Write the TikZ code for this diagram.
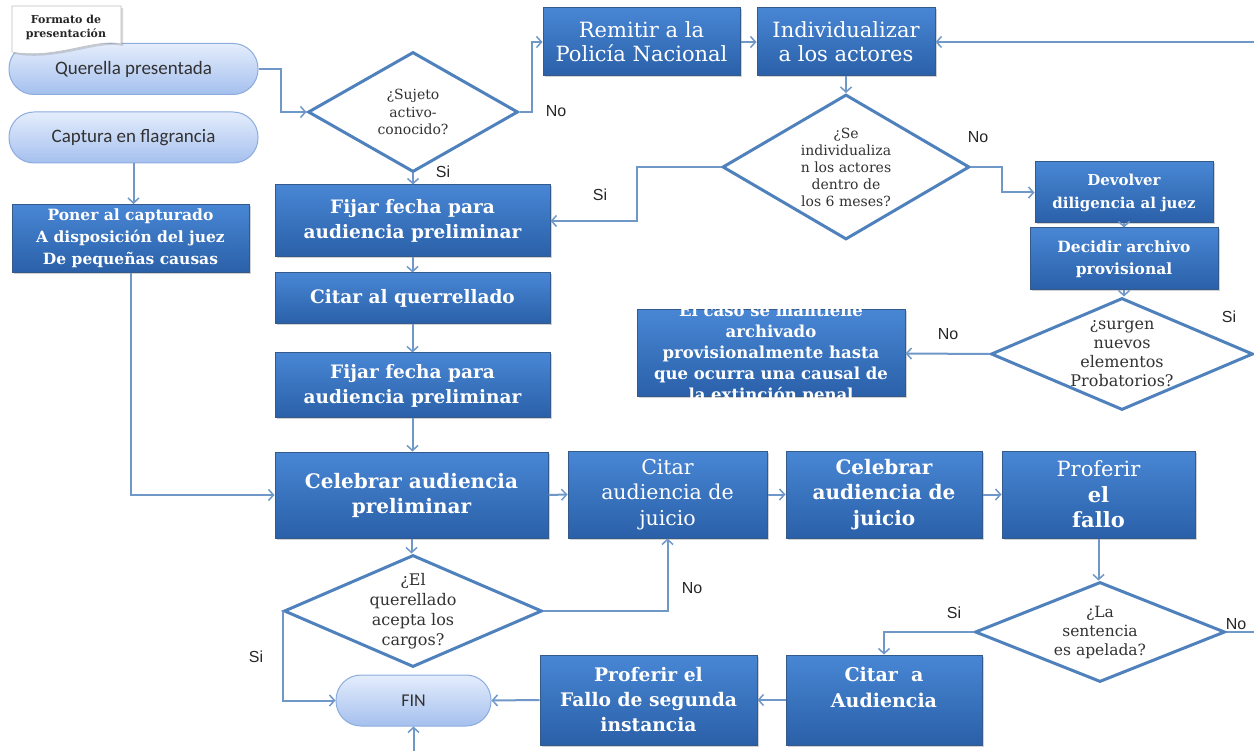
\documentclass[tikz,border=0pt]{standalone}
\usepackage{fontspec}
\setmainfont{DejaVu Serif}
\newfontfamily\srf{DejaVu Serif}
\newfontfamily\carl{Carlito}
\newfontfamily\lsans{Liberation Sans}
\usetikzlibrary{arrows.meta,shapes.geometric,shadows}
\definecolor{conncol}{RGB}{111,152,201}
\definecolor{dborder}{RGB}{79,129,189}
\definecolor{btop}{RGB}{72,134,212}
\definecolor{bbot}{RGB}{42,96,168}
\definecolor{bedge}{RGB}{52,90,140}
\definecolor{ptop}{RGB}{228,237,252}
\definecolor{pbot}{RGB}{165,192,238}
\definecolor{pedge}{RGB}{140,172,222}
\definecolor{dtxt}{RGB}{50,50,50}
\newcommand{\myB}[2]{\srf\bfseries\fontsize{#1}{#2}\selectfont}
\newcommand{\myR}[2]{\srf\fontsize{#1}{#2}\selectfont}
\begin{document}
\begin{tikzpicture}[x=1pt,y=-1pt,
  box/.style={rectangle, draw=bedge, line width=1pt, top color=btop, bottom color=bbot,
    text=white, align=center, inner sep=0pt,
    drop shadow={shadow xshift=1.5pt, shadow yshift=-1.5pt, opacity=0.35}},
  pill/.style={rectangle, rounded corners=25pt, draw=pedge, line width=1pt,
    top color=ptop, bottom color=pbot, text=dtxt, inner sep=0pt,
    font=\carl\fontsize{19}{22}\selectfont},
  dia/.style={diamond, draw=dborder, line width=3pt, fill=white, inner sep=0pt},
  dtext/.style={text=dtxt, align=center, inner sep=0pt},
  arr/.style={draw=conncol, line width=2pt, -{Straight Barb[length=5pt,width=11pt,line width=1.5pt]}},
  plain/.style={draw=conncol, line width=2pt},
  lbl/.style={font=\lsans\fontsize{16}{18}\selectfont, text=black!85, inner sep=0pt}
]
\fill[white] (0,0) rectangle (1254,751);
\useasboundingbox (0,0) rectangle (1254,751);

% start / end pills
\node[pill, minimum width=249pt, minimum height=51pt] (q) at (133.5,69) {Querella presentada};
\node[pill, minimum width=249pt, minimum height=51pt] (cap) at (133.5,137.5) {Captura en flagrancia};
\node[pill, minimum width=155pt, minimum height=51pt, font=\carl\fontsize{18}{20}\selectfont] (fin) at (413.5,700.5) {FIN};

% format tab
\path[fill=white, draw=black!25, line width=0.6pt,
  drop shadow={shadow xshift=2pt, shadow yshift=-2pt, opacity=0.3}]
  (12,6) -- (121,6) -- (121,44) .. controls (95,38) and (55,60) .. (12,52) -- cycle;
\node[font=\myB{11}{14}, text=black!85, align=center, inner sep=0pt] (fmt) at (66,27) {Formato de\\presentación};

% process boxes
\node[box, minimum width=237pt, minimum height=68pt, font=\myB{15.5}{22}] (pon) at (130.5,238.5)
  {Poner al capturado\\A disposición del juez\\De pequeñas causas};
\node[box, minimum width=197pt, minimum height=68pt, font=\myR{21}{24}] (rem) at (641.5,42)
  {Remitir a la\\Policía Nacional};
\node[box, minimum width=178pt, minimum height=68pt, font=\myR{21}{24}] (ind) at (846,42)
  {Individualizar\\a los actores};
\node[box, minimum width=178pt, minimum height=61pt, font=\myB{15}{23}] (dev) at (1124,192.5)
  {Devolver\\diligencia al juez};
\node[box, minimum width=188pt, minimum height=62pt, font=\myB{15.5}{22}] (dec) at (1124,259)
  {Decidir archivo\\provisional};
\node[box, minimum width=268pt, minimum height=87pt,
  label={[text=white, align=center, inner sep=0pt, font=\myB{16.5}{21}]center:{El caso se mantiene\\archivado\\provisionalmente hasta\\que ocurra una causal de\\la extinción penal}}] (caso) at (771,353.5) {};
\node[box, minimum width=275pt, minimum height=72pt, font=\myB{18.5}{25}] (f1) at (412.5,221)
  {Fijar fecha para\\audiencia preliminar};
\node[box, minimum width=275pt, minimum height=51pt, font=\myB{18.5}{25}] (cq) at (412.5,298.5)
  {Citar al querrellado};
\node[box, minimum width=275pt, minimum height=65pt, font=\myB{18.5}{25}] (f2) at (412.5,385.5)
  {Fijar fecha para\\audiencia preliminar};
\node[box, minimum width=273pt, minimum height=86pt, font=\myB{20}{25}] (cel) at (411.5,495)
  {Celebrar audiencia\\preliminar};
\node[box, minimum width=199pt, minimum height=87pt, font=\myR{20.5}{25.5}] (caj) at (667.5,494.5)
  {Citar\\audiencia de\\juicio};
\node[box, minimum width=196pt, minimum height=87pt, font=\myB{20}{25.5}] (cej) at (884,494.5)
  {Celebrar\\audiencia de\\juicio};
\node[box, minimum width=193pt, minimum height=87pt, font=\myR{21}{25.5}] (pf) at (1098.5,494.5)
  {Proferir\\\textbf{el}\\\textbf{fallo}};
\node[box, minimum width=217pt, minimum height=90pt, font=\myB{18.7}{25}] (pfs) at (648.5,700)
  {Proferir el\\Fallo de segunda\\instancia};
\node[box, minimum width=196pt, minimum height=90pt, font=\myB{19}{26}] (ca) at (884,700)
  {Citar~~a\\Audiencia\\\mbox{}};

% decisions
\node[dia, minimum width=210pt, minimum height=120pt,
  label={[dtext, font=\myR{14}{17.5}]center:{¿Sujeto\\activo-\\conocido?}}] (d1) at (413,112) {};
\node[dia, minimum width=247pt, minimum height=145pt,
  label={[dtext, font=\myR{14}{17}]center:{¿Se\\individualiza\\n los actores\\dentro de\\los 6 meses?}}] (d2) at (846,167) {};
\node[dia, minimum width=262pt, minimum height=112pt,
  label={[dtext, font=\myR{16}{19}]center:{¿surgen\\nuevos\\elementos\\Probatorios?}}] (d3) at (1122,354) {};
\node[dia, minimum width=258pt, minimum height=112pt,
  label={[dtext, font=\myR{16}{20}]center:{¿El\\querellado\\acepta los\\cargos?}}] (d4) at (413,611) {};
\node[dia, minimum width=250pt, minimum height=100pt,
  label={[dtext, font=\myR{15.5}{19}]center:{¿La\\sentencia\\es apelada?}}] (d5) at (1100,632) {};

% free ends
\coordinate (rin) at (1254,42);
\coordinate (fbot) at (413.5,751);
\coordinate (dout) at (1254,632);

% connectors
\draw[arr] (q.east) -- ++(22,0) |- (d1.west);
\draw[arr] (d1.east) -- ++(12,0) |- (rem.west);
\draw[arr] (rem.east) -- (ind.west);
\draw[arr] (rin) -- (ind.east);
\draw[arr] (ind.south) -- (ind.south |- d2.north);
\draw[arr] (d2.west) -- ++(-84,0) |- (f1.east);
\draw[arr] (d2.east) -- ++(31,0) |- (dev.west);
\draw[arr] (dev.south) -- (dev.south |- dec.north);
\draw[arr] (dec.south) -- (dec.south |- d3.north);
\draw[arr] (d3.west) -- (caso.east);
\draw[arr] (cap.south) -- (cap.south |- pon.north);
\draw[arr] (pon.south) |- (cel.west);
\draw[arr] (d1.south) -- (d1.south |- f1.north);
\draw[arr] (f1.south) -- (cq.north);
\draw[arr] (cq.south) -- (f2.north);
\draw[arr] (f2.south) -- (f2.south |- cel.north);
\draw[arr] (cel.east) -- (caj.west);
\draw[arr] (caj.east) -- (cej.west);
\draw[arr] (cej.east) -- (pf.west);
\draw[arr] (cel.south) -- (cel.south |- d4.north);
\draw[arr] (d4.east) -| (caj.south);
\draw[arr] (d4.west) |- (fin.west);
\draw[arr] (fbot) -- (fin.south);
\draw[arr] (pfs.west) -- (fin.east);
\draw[arr] (ca.west) -- (pfs.east);
\draw[arr] (pf.south) -- (pf.south |- d5.north);
\draw[arr] (d5.west) -| (ca.north);
\draw[plain] (d5.east) -- (dout);

% branch labels
\node[lbl] (l1) at (556,111) {No};
\node[lbl] (l2) at (443,172) {Si};
\node[lbl] (l3) at (600,195) {Si};
\node[lbl] (l4) at (978,137) {No};
\node[lbl] (l5) at (1229,317) {Si};
\node[lbl] (l6) at (948,334) {No};
\node[lbl] (l7) at (692,588) {No};
\node[lbl] (l8) at (256,657) {Si};
\node[lbl] (l9) at (954,613) {Si};
\node[lbl] (l10) at (1236,624) {No};
\end{tikzpicture}
\end{document}
